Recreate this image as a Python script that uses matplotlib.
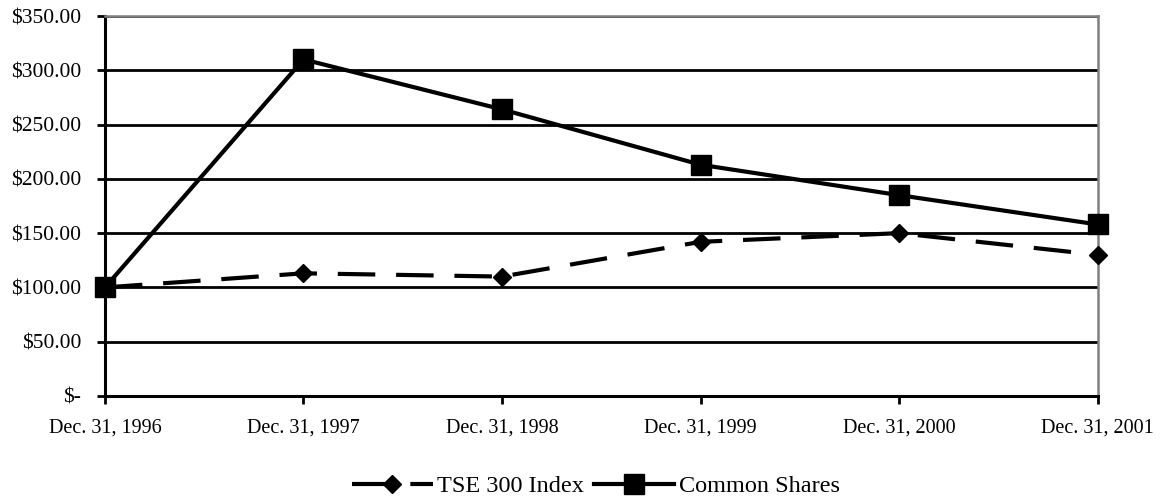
import matplotlib
matplotlib.use("Agg")
import matplotlib.pyplot as plt

plt.rcParams['font.family'] = ['Liberation Serif', 'DejaVu Serif']

dates = ["Dec. 31, 1996", "Dec. 31, 1997", "Dec. 31, 1998",
         "Dec. 31, 1999", "Dec. 31, 2000", "Dec. 31, 2001"]
tse_300 = [100, 113, 110, 142, 150, 130]
common_shares = [100, 310, 264, 213, 185, 158]
y_ticks = [0, 50, 100, 150, 200, 250, 300, 350]
y_labels = ["$-", "$50.00", "$100.00", "$150.00", "$200.00", "$250.00", "$300.00", "$350.00"]

fig = plt.figure(figsize=(11.61, 5.0), dpi=100)
ax = fig.add_axes([0.0904, 0.208, 0.855, 0.760])

x = list(range(len(dates)))
ax.plot(x, tse_300, color="black", linewidth=3, dashes=(9, 5),
        marker="D", markersize=9, label="TSE 300 Index", clip_on=False, zorder=3)
ax.plot(x, common_shares, color="black", linewidth=3,
        marker="s", markersize=15, label="Common Shares", clip_on=False, zorder=4)

ax.set_xlim(0, 5)
ax.set_ylim(0, 350)
ax.set_xticks(x)
ax.set_xticklabels(dates, fontsize=14.5)
ax.set_yticks(y_ticks)
ax.set_yticklabels(y_labels, fontsize=15.5)
ax.tick_params(axis="both", length=6, width=2, color="black")
ax.tick_params(axis="x", pad=10)
ax.tick_params(axis="y", pad=11)
ax.yaxis.grid(True, color="black", linewidth=2)
ax.set_axisbelow(True)

for side in ["left", "bottom"]:
    ax.spines[side].set_color("black")
    ax.spines[side].set_linewidth(2.2)
for side in ["top", "right"]:
    ax.spines[side].set_color("#808080")
    ax.spines[side].set_linewidth(1.8)

leg = fig.legend(loc="center", bbox_to_anchor=(0.5135, 0.028), ncol=2, frameon=False,
                 fontsize=17.5, handlelength=3.3, columnspacing=0.4, handletextpad=0.2,
                 borderpad=0)

fig.savefig("out.png", dpi=100)
